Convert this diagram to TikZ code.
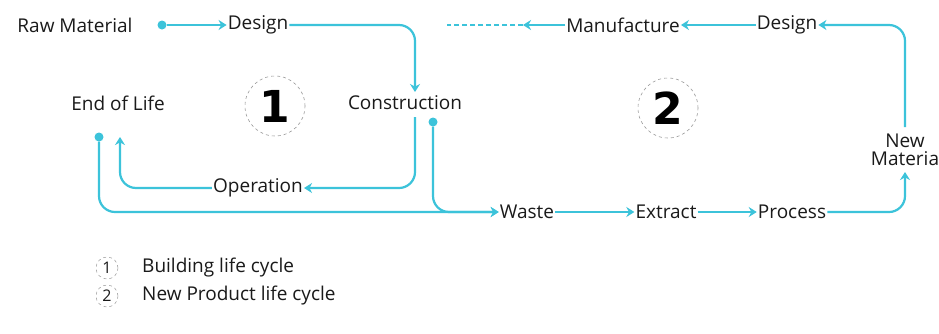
\documentclass[tikz,border=0pt]{standalone}
\usepackage{fontspec}
\setmainfont{Open Sans}
\newfontfamily\digitfont{DejaVu Sans}
\usetikzlibrary{arrows.meta,calc}
\definecolor{flowc}{HTML}{3CC3DA}
\definecolor{txtc}{HTML}{1A1A1A}
\definecolor{ringc}{HTML}{9A9A9A}
\begin{document}
\begin{tikzpicture}[x=1pt,y=-1pt,
  lbl/.style={inner sep=1pt,text=txtc,font=\fontsize{19}{18}\selectfont},
  flow/.style={draw=flowc,line width=2.2pt,rounded corners=16pt},
  arr/.style={-{Stealth[length=8pt,width=10pt]}},
  dotc/.style={circle,fill=flowc,inner sep=0pt,minimum size=9pt},
  ring/.style={circle,draw=ringc,dashed,line width=0.6pt,minimum size=60pt,inner sep=0pt,text=black,font=\digitfont\bfseries\fontsize{44}{44}\selectfont},
  smallring/.style={circle,draw=ringc,dashed,line width=0.5pt,minimum size=22pt,inner sep=0pt,text=txtc,font=\fontsize{16}{16}\selectfont}]
\useasboundingbox[fill=white] (0,0) rectangle (939,333);

% nodes
\node[lbl] (raw) at (75,25) {Raw Material};
\node[lbl] (d1) at (258,25) {Design};
\node[lbl] (cons) at (405,103) {Construction};
\node[lbl] (eol) at (118,103) {End of Life};
\node[lbl] (op) at (258,188) {Operation};
\node[lbl] (waste) at (527,212) {Waste};
\node[lbl] (extract) at (666,212) {Extract};
\node[lbl] (process) at (792,212) {Process};
\node[lbl,align=center] (newmat) at (905,150) {New\\Materia};
\node[lbl] (manuf) at (623,25) {Manufacture};
\node[lbl] (d2) at (787,25) {Design};

\node[ring] (c1) at (275,106) {1};
\node[ring] (c2) at (668,108) {2};

\node[smallring] (l1) at (107,268) {1};
\node[smallring] (l2) at (107,296) {2};
\node[lbl,anchor=west] (lt1) at (141,268) {Building life cycle};
\node[lbl,anchor=west] (lt2) at (141,296) {New Product life cycle};

% coordinates
\node[dotc] (dot1) at (162,25) {};
\node[dotc] (eoldot) at (99,137) {};
\node[dotc] (consdot) at (433,122) {};
\coordinate (cin) at (415,92);
\coordinate (consout) at (415,117);
\coordinate (eolin) at (120,137);
\coordinate (nmin) at (905,172);
\coordinate (nmout) at (905,127);
\coordinate (mfout) at (523,25);
\coordinate (mfend) at (447,25);

% connectors
\draw[flow,arr] (dot1) -- (d1);
\draw[flow,arr] (d1.east) -| (cin);
\draw[flow,arr] (consout) |- (op.east);
\draw[flow,arr] (op.west) -| (eolin);
\draw[flow,arr] (eoldot) |- (waste.west);
\draw[flow,arr] (consdot) |- (waste.west);
\draw[flow,arr] (waste.east) -- (extract.west);
\draw[flow,arr] (extract.east) -- (process.west);
\draw[flow,arr] (process.east) -| (nmin);
\draw[flow,arr] (nmout) |- (d2.east);
\draw[flow,arr] (d2.west) -- (manuf.east);
\draw[flow,arr] (manuf.west) -- (mfout);
\draw[flow,line width=1.4pt,dash pattern=on 5pt off 3pt] (mfout) -- (mfend);
\end{tikzpicture}
\end{document}
